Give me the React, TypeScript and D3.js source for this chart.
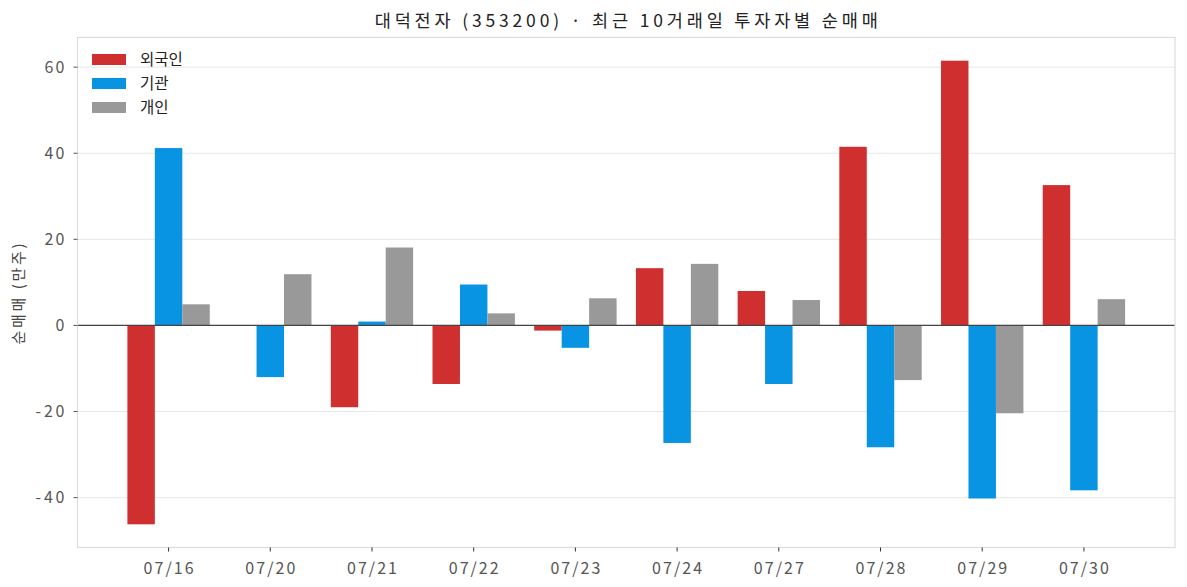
import { useEffect } from 'react';
import * as d3 from 'd3';

const dates = ['07/16', '07/20', '07/21', '07/22', '07/23', '07/24', '07/27', '07/28', '07/29', '07/30'];
const foreign = [-46.2, 0, -19.0, -13.6, -1.2, 13.3, 8.0, 41.5, 61.5, 32.6];
const institution = [41.2, -12.0, 0.9, 9.5, -5.2, -27.3, -13.6, -28.3, -40.2, -38.3];
const individual = [4.9, 11.9, 18.1, 2.8, 6.3, 14.3, 5.9, -12.7, -20.4, 6.1];
const yTicks = [-40, -20, 0, 20, 40, 60];

const series = [
  { name: '외국인', values: foreign, color: '#d02f2f', offset: -0.27 },
  { name: '기관', values: institution, color: '#0993e3', offset: 0 },
  { name: '개인', values: individual, color: '#999999', offset: 0.27 },
];

const W = 1187;
const H = 587;
const margin = { top: 37.5, right: 12, bottom: 39.5, left: 77.5 };
const font = '"Noto Sans CJK KR", "Noto Sans", sans-serif';

export default function App() {
  useEffect(() => {
    document.body.style.margin = '0';
  }, []);

  const innerW = W - margin.left - margin.right;
  const innerH = H - margin.top - margin.bottom;
  const barW = 0.27;

  // Scales (matplotlib-like 5% margins)
  const all = [...foreign, ...institution, ...individual];
  const lo = Math.min(0, d3.min(all) as number);
  const hi = Math.max(0, d3.max(all) as number);
  const pad = (hi - lo) * 0.05;
  const yScale = d3.scaleLinear().domain([lo - pad, hi + pad]).range([innerH, 0]);

  const xLo = -0.27 - barW / 2;
  const xHi = dates.length - 1 + 0.27 + barW / 2;
  const xPad = (xHi - xLo) * 0.05;
  const xScale = d3.scaleLinear().domain([xLo - xPad, xHi + xPad]).range([0, innerW]);

  const bw = xScale(barW) - xScale(0);

  return (
    <svg width={W} height={H} style={{ display: 'block', fontFamily: font }}>
      <rect width={W} height={H} fill="#ffffff" />
      <text
        x={margin.left + innerW / 2}
        y={27}
        textAnchor="middle"
        fontSize={17.5}
        fill="#222"
        textLength={503}
        lengthAdjust="spacing"
      >
        대덕전자 (353200) · 최근 10거래일 투자자별 순매매
      </text>
      <g transform={`translate(${margin.left},${margin.top})`}>
        {/* Grid */}
        {yTicks.map(t => (
          <line key={'g' + t} x1={0} x2={innerW} y1={yScale(t)} y2={yScale(t)} stroke="#e6e6e6" strokeWidth={1} />
        ))}

        {/* Bars */}
        {series.map(s =>
          s.values.map((v, i) => {
            const x = xScale(i + s.offset) - bw / 2;
            const y0 = yScale(Math.max(0, v));
            const h = Math.abs(yScale(v) - yScale(0));
            return <rect key={s.name + i} x={x} y={y0} width={bw} height={h} fill={s.color} />;
          })
        )}

        {/* Zero line */}
        <line x1={0} x2={innerW} y1={yScale(0)} y2={yScale(0)} stroke="#444" strokeWidth={1.2} />

        {/* Frame */}
        <rect x={0} y={0} width={innerW} height={innerH} fill="none" stroke="#dcdcdc" strokeWidth={1.2} />

        {/* Y axis */}
        {yTicks.map(t => (
          <g key={'y' + t} transform={`translate(0,${yScale(t)})`}>
            <line x1={-4} x2={0} stroke="#555" strokeWidth={1} />
            <text
              x={-13}
              dy="0.36em"
              textAnchor="end"
              fontSize={16}
              fill="#555"
              textLength={String(t).length * 10 - (t < 0 ? 1 : 0)}
              lengthAdjust="spacing"
            >
              {t}
            </text>
          </g>
        ))}

        {/* X axis */}
        {dates.map((d, i) => (
          <g key={d} transform={`translate(${xScale(i)},${innerH})`}>
            <line y1={0} y2={4} stroke="#333" strokeWidth={1} />
            <text y={26.5} textAnchor="middle" fontSize={16} fill="#555" textLength={50} lengthAdjust="spacing">
              {d}
            </text>
          </g>
        ))}

        <text
          transform={`translate(${19 - margin.left},${294 - margin.top}) rotate(-90)`}
          textAnchor="middle"
          dy="0.35em"
          fontSize={15}
          fill="#444"
          textLength={101}
          lengthAdjust="spacing"
        >
          순매매 (만주)
        </text>

        {/* Legend */}
        {series.map((s, i) => (
          <g key={'l' + s.name} transform={`translate(14.5,${16.5 + i * 24})`}>
            <rect width={34} height={11} fill={s.color} />
            <text x={48} y={5.5} dy="0.36em" fontSize={15.5} fill="#222">
              {s.name}
            </text>
          </g>
        ))}
      </g>
    </svg>
  );
}
